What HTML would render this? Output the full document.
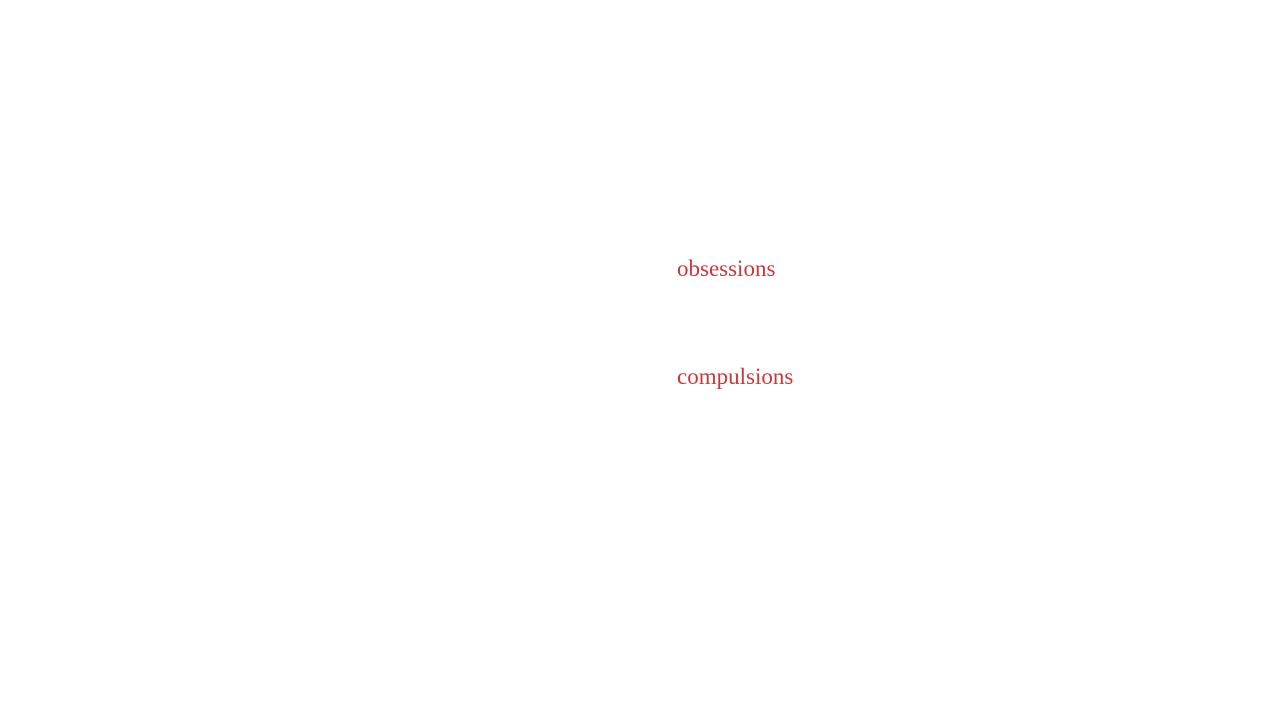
<!DOCTYPE html>
<html><head><meta charset="utf-8"><style>
html,body{margin:0;padding:0;background:#fff;width:1280px;height:720px;overflow:hidden}
.t{position:absolute;left:677px;font-family:"Liberation Serif",serif;font-size:23px;color:#c8383b;line-height:1;white-space:nowrap}
</style></head><body>
<div class="t" style="top:257px">obsessions</div>
<div class="t" style="top:365px">compulsions</div>
</body></html>
